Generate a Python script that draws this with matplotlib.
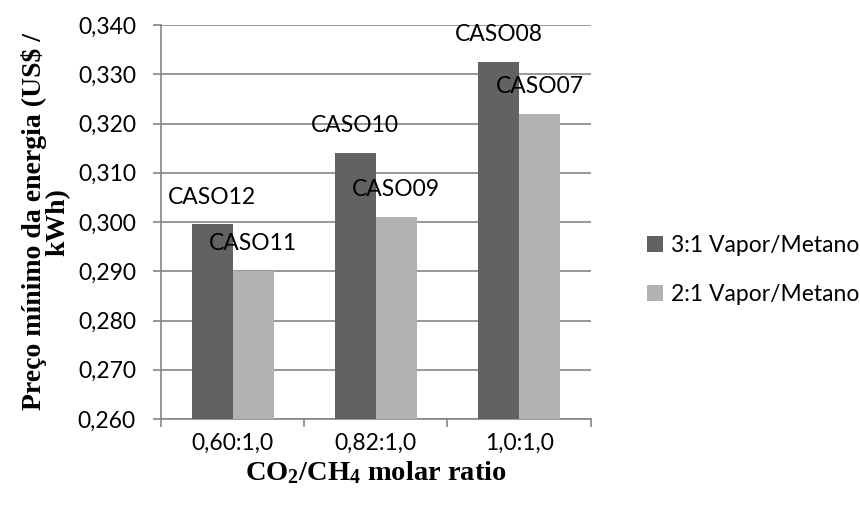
import matplotlib
matplotlib.use("Agg")
import matplotlib.pyplot as plt
import numpy as np

categories = ["0,60:1,0", "0,82:1,0", "1,0:1,0"]
series_names = ["3:1 Vapor/Metano", "2:1 Vapor/Metano"]
values_31 = [0.2995, 0.3141, 0.3325]
values_21 = [0.2901, 0.3011, 0.3220]
labels_31 = ["CASO12", "CASO10", "CASO08"]
labels_21 = ["CASO11", "CASO09", "CASO07"]
yticks = [0.26, 0.27, 0.28, 0.29, 0.30, 0.31, 0.32, 0.33, 0.34]

sans = ["Lato", "DejaVu Sans"]
serif = ["Liberation Serif", "DejaVu Serif"]
plt.rcParams['font.family'] = sans
plt.rcParams['mathtext.fontset'] = 'custom'
plt.rcParams['mathtext.rm'] = 'Liberation Serif'
plt.rcParams['mathtext.it'] = 'Liberation Serif:italic'
plt.rcParams['mathtext.bf'] = 'Liberation Serif:bold'

FS = 16.5

fig = plt.figure(figsize=(8.6, 5.09), dpi=100)
ax = fig.add_axes([161/860, 1-419/509, (590.7-161)/860, (419-25)/509])

x = np.arange(len(categories))
w = 0.286
c_dark = "#626262"
c_light = "#B2B2B2"
b1 = ax.bar(x - w/2, values_31, w, color=c_dark, label=series_names[0], zorder=3)
b2 = ax.bar(x + w/2, values_21, w, color=c_light, label=series_names[1], zorder=3)

for bars, labs in ((b1, labels_31), (b2, labels_21)):
    for r, lab in zip(bars, labs):
        ax.annotate(lab, (r.get_x() + r.get_width()/2, r.get_height()),
                    xytext=(0, 19.4), textcoords="offset points",
                    ha="center", va="center", fontsize=FS, color="black", zorder=4)

ax.set_ylim(0.26, 0.34)
ax.set_xlim(-0.5, 2.5)
ax.set_yticks(yticks)
ax.set_yticklabels([f"{v:.3f}".replace(".", ",") for v in yticks], fontsize=FS)
ax.yaxis.grid(True, color="#868686", linewidth=1.2, zorder=0)
ax.set_axisbelow(True)

ax.set_xticks(x)
ax.set_xticklabels(categories, fontsize=FS)
ax.set_xticks([-0.5, 0.5, 1.5, 2.5], minor=True)
ax.tick_params(axis="x", which="major", length=0, pad=10)
ax.tick_params(axis="x", which="minor", length=6, color="#868686", width=1.2)
ax.tick_params(axis="y", length=6, color="#868686", width=1.2, pad=12)

for s in ("top", "right"):
    ax.spines[s].set_visible(False)
for s in ("left", "bottom"):
    ax.spines[s].set_color("#868686")
    ax.spines[s].set_linewidth(1.2)

ax.set_ylabel("Preço mínimo da energia (US$ /\nkWh)", fontsize=20,
              fontweight="bold", family=serif, linespacing=0.95, labelpad=5)
ax.set_xlabel(r"$\mathbf{CO_2/CH_4}$ molar ratio", fontsize=20.5,
              fontweight="bold", family=serif, labelpad=4)

leg = fig.legend(handles=[b1, b2], loc="center left", bbox_to_anchor=(626/860, 1-270/509),
                 frameon=False, fontsize=FS, handlelength=0.7, handleheight=0.7,
                 labelspacing=1.25, handletextpad=0.35)

fig.savefig("out.png", dpi=100)
